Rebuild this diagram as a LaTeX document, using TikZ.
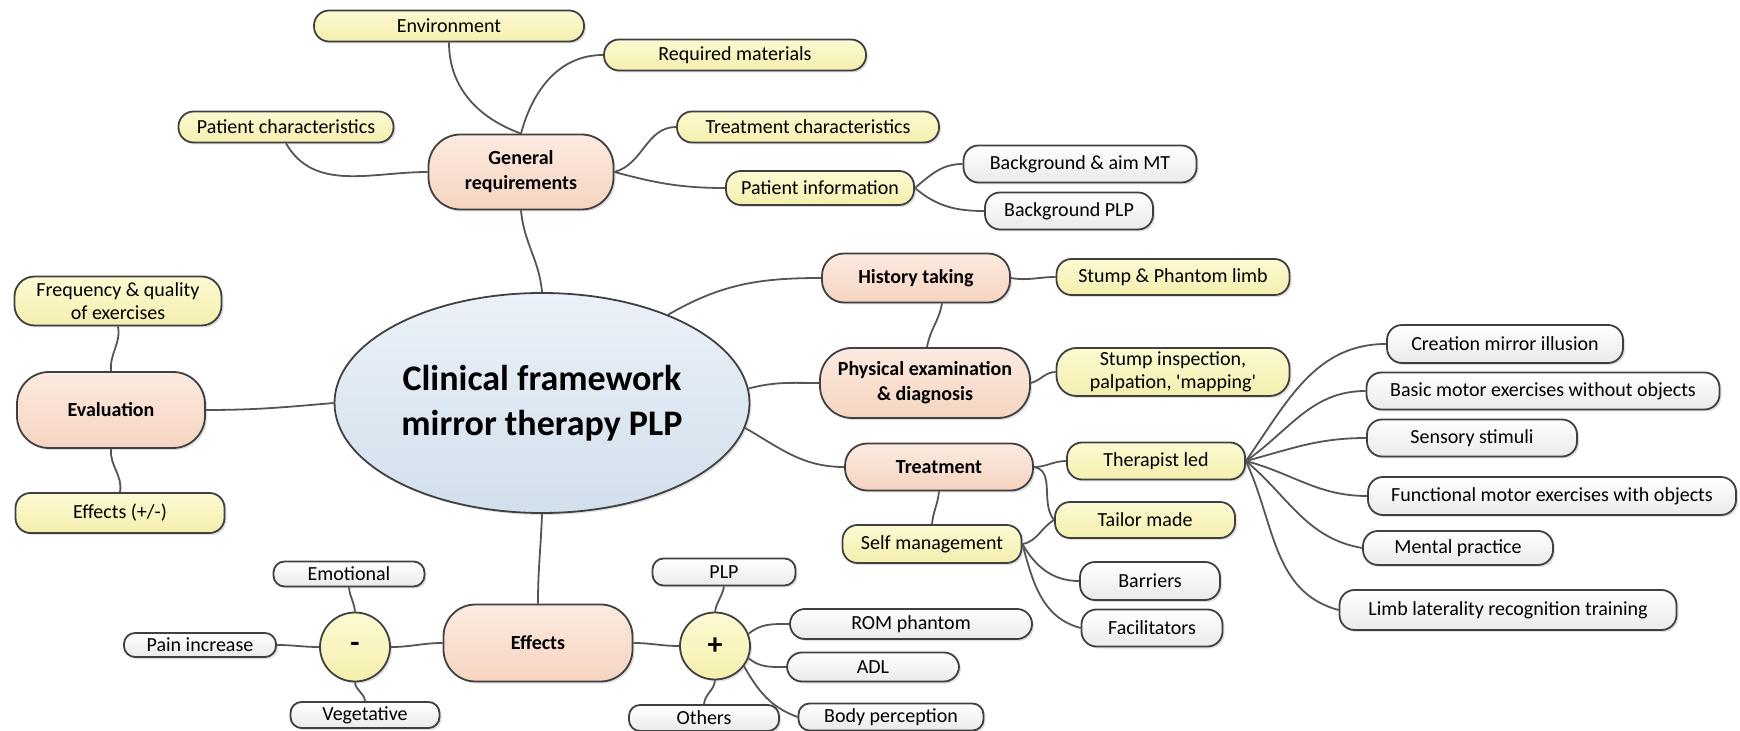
\documentclass[tikz,border=0pt]{standalone}
\usepackage{fontspec}
\setmainfont{Carlito}
\newfontfamily\plainq{Carlito}
\usetikzlibrary{shapes.geometric,shadows,calc}
\definecolor{bd}{HTML}{404040}
\definecolor{ln}{HTML}{555555}
\definecolor{o1}{HTML}{FCEAE0}
\definecolor{o2}{HTML}{F5D4C0}
\definecolor{y1}{HTML}{FCFAD2}
\definecolor{y2}{HTML}{F4EFAE}
\definecolor{w2}{HTML}{EAEAEA}
\definecolor{c1}{HTML}{EBF1F8}
\definecolor{c2}{HTML}{D2DFEC}
\pgfdeclarelayer{bg}
\pgfsetlayers{bg,main}
\tikzset{
  nd/.style={draw=bd, line width=0.9pt, inner sep=1pt, align=center,
    font=\fontsize{10}{11.5}\selectfont,
    drop shadow={shadow xshift=1pt, shadow yshift=-1pt, opacity=0.25}},
  org/.style={nd, top color=o1, bottom color=o2, rounded corners=16pt,
    font=\bfseries\fontsize{10}{12.5}\selectfont},
  orgS/.style={org, rounded corners=11pt},
  yel/.style={nd, top color=y1, bottom color=y2, rounded corners=7.5pt},
  yelT/.style={yel, rounded corners=10pt},
  wht/.style={nd, top color=white, bottom color=w2, rounded corners=7.5pt},
  whtS/.style={wht, rounded corners=5.5pt},
  sign/.style={nd, ellipse, top color=y1, bottom color=y2, inner sep=0pt,
    font=\bfseries\fontsize{15}{15}\selectfont},
  ctr/.style={nd, ellipse, top color=c1, bottom color=c2, inner sep=0pt,
    minimum width=207.5pt, minimum height=110pt,
    font=\bfseries\fontsize{18}{22.5}\selectfont},
  ed/.style={draw=ln, line width=0.9pt}
}
\begin{document}
\begin{tikzpicture}[x=0.5pt,y=-0.5pt]
\useasboundingbox (0,0) rectangle (1740,731);

% centre
\node[ctr] (cen) at (542,403) {Clinical framework\\mirror therapy PLP};

% general requirements
\node[org, minimum width=92.5pt, minimum height=37.5pt] (gr) at (521,172) {General\\requirements};
\node[yel, minimum width=135pt, minimum height=15.5pt] (env) at (449,26) {Environment};
\node[yel, minimum width=131pt, minimum height=15.5pt] (req) at (735,55) {Required materials};
\node[yel, minimum width=107.5pt, minimum height=15.5pt] (pch) at (286,127) {Patient characteristics};
\node[yel, minimum width=131pt, minimum height=15.5pt] (tch) at (808,127) {Treatment characteristics};
\node[yel, minimum width=94pt, minimum height=17pt] (pin) at (820,188) {Patient information};
\node[wht, minimum width=116.5pt, minimum height=18.5pt] (bam) at (1080,164) {Background \& aim MT};
\node[wht, minimum width=84pt, minimum height=18.5pt] (bpl) at (1069,211) {Background PLP};

% history / physical
\node[orgS, minimum width=94pt, minimum height=24.5pt] (his) at (916,278) {History taking};
\node[yel, minimum width=116.5pt, minimum height=18pt] (spl) at (1173,277) {Stump \& Phantom limb};
\node[org, minimum width=105pt, minimum height=35pt] (phy) at (925,383) {Physical examination\\\& diagnosis};
\node[yelT, minimum width=116.5pt, minimum height=24pt] (sin) at (1173,372) {Stump inspection,\\palpation, {\plainq'}mapping{\plainq'}};

% treatment
\node[orgS, minimum width=94pt, minimum height=23.5pt] (trt) at (939,467) {Treatment};
\node[yel, minimum width=89pt, minimum height=18.5pt] (thl) at (1156,461) {Therapist led};
\node[yel, minimum width=90pt, minimum height=18pt] (tai) at (1145,520) {Tailor made};
\node[yel, minimum width=89.5pt, minimum height=19pt] (slf) at (932,544) {Self management};
\node[wht, minimum width=70pt, minimum height=19pt] (bar) at (1150,581) {Barriers};
\node[wht, minimum width=70.5pt, minimum height=18.5pt] (fac) at (1152,628) {Facilitators};

\node[wht, minimum width=118pt, minimum height=19pt] (cmi) at (1505,344) {Creation mirror illusion};
\node[wht, minimum width=176.5pt, minimum height=18.5pt] (bme) at (1543,391) {Basic motor exercises without objects};
\node[wht, minimum width=105pt, minimum height=18.5pt] (sst) at (1472,438) {Sensory stimuli};
\node[wht, minimum width=184pt, minimum height=19pt] (fme) at (1552,496) {Functional motor exercises with objects};
\node[wht, minimum width=95pt, minimum height=17pt] (mpr) at (1458,548) {Mental practice};
\node[wht, minimum width=168.5pt, minimum height=20pt] (llr) at (1508,610) {Limb laterality recognition training};

% evaluation
\node[yelT, minimum width=103.5pt, minimum height=24.5pt] (frq) at (118,301) {Frequency \& quality\\of exercises};
\node[org, minimum width=94pt, minimum height=38pt] (evl) at (111,410) {Evaluation};
\node[yel, minimum width=104.5pt, minimum height=20pt] (efpm) at (120,513) {Effects (+/-)};

% effects
\node[org, minimum width=94.5pt, minimum height=38.5pt] (eff) at (538,643) {Effects};
\node[sign, minimum width=35pt, minimum height=34.5pt] (neg) at (355,647) {-};
\node[sign, minimum width=35pt, minimum height=33.5pt] (pos) at (715,646) {+};
\node[whtS, minimum width=75.5pt, minimum height=12.5pt] (emo) at (349,574) {Emotional};
\node[whtS, minimum width=76pt, minimum height=12pt] (pai) at (200,645) {Pain increase};
\node[whtS, minimum width=74.5pt, minimum height=13pt] (veg) at (365,715) {Vegetative};
\node[whtS, minimum width=71.5pt, minimum height=13.5pt] (plp) at (724,572) {PLP};
\node[wht, minimum width=121pt, minimum height=15pt] (rom) at (911,624) {ROM phantom};
\node[wht, minimum width=86pt, minimum height=14.5pt] (adl) at (873,667) {ADL};
\node[whtS, minimum width=75pt, minimum height=13pt] (oth) at (704,718) {Others};
\node[whtS, minimum width=92.5pt, minimum height=13.5pt] (bod) at (891,717) {Body perception};

\begin{pgfonlayer}{bg}
\draw[ed] (gr.south) to[out=-85,in=95] (cen.north);
\draw[ed] (gr.west) to[out=180,in=-60] (pch.south);
\draw[ed] (env.south) to[out=-90,in=160] (gr.north);
\draw[ed] (gr.north) to[out=75,in=180] (req.west);
\draw[ed] (gr.east) to[out=15,in=180] (tch.west);
\draw[ed] (gr.east) to[out=-15,in=180] (pin.west);
\draw[ed] (pin.east) to[out=40,in=180] (bam.west);
\draw[ed] (pin.east) to[out=-40,in=180] (bpl.west);
\draw[ed] (cen.35) to[out=30,in=180] (his.west);
\draw[ed] (his.east) to[out=-10,in=180] (spl.west);
\draw[ed] ($(his.south)+(26,0)$) to[out=-100,in=80] ($(phy.north)+(2,0)$);
\draw[ed] (cen.4) to[out=15,in=180] (phy.west);
\draw[ed] (phy.east) to[out=15,in=180] (sin.west);
\draw[ed] (cen.-7) to[out=-30,in=180] (trt.west);
\draw[ed] (trt.south) to[out=-95,in=85] (slf.north);
\draw[ed] (trt.east) to[out=0,in=180] (thl.west);
\draw[ed] (trt.east) to[out=-10,in=130] (tai.west);
\draw[ed] (slf.east) to[out=10,in=-150] (tai.west);
\draw[ed] (slf.east) to[out=-60,in=180] (bar.west);
\draw[ed] (slf.east) to[out=-75,in=165] (fac.west);
\draw[ed] (thl.east) to[out=55,in=180] (cmi.west);
\draw[ed] (thl.east) to[out=35,in=180] (bme.west);
\draw[ed] (thl.east) to[out=15,in=180] (sst.west);
\draw[ed] (thl.east) to[out=-15,in=180] (fme.west);
\draw[ed] (thl.east) to[out=-40,in=170] (mpr.west);
\draw[ed] (thl.east) to[out=-65,in=165] (llr.west);
\draw[ed] (cen.west) to[out=185,in=0] (evl.east);
\draw[ed] (evl.north) to[out=95,in=-80] (frq.south);
\draw[ed] (evl.south) to[out=-95,in=80] (efpm.north);
\draw[ed] (cen.south) to[out=-92,in=90] (eff.north);
\draw[ed] (eff.west) to[out=180,in=0] (neg.east);
\draw[ed] (neg.north) to[out=95,in=-85] (emo.south);
\draw[ed] (neg.west) to[out=180,in=0] (pai.east);
\draw[ed] (neg.south) to[out=-85,in=95] (veg.north);
\draw[ed] (eff.east) to[out=0,in=180] (pos.west);
\draw[ed] (pos.north) to[out=80,in=-100] (plp.south);
\draw[ed] (pos.20) to[out=40,in=180] (rom.west);
\draw[ed] (pos.-20) to[out=-40,in=180] (adl.west);
\draw[ed] (pos.-35) to[out=-60,in=160] (bod.west);
\draw[ed] (pos.south) to[out=-95,in=85] (oth.north);
\end{pgfonlayer}
\end{tikzpicture}
\end{document}
